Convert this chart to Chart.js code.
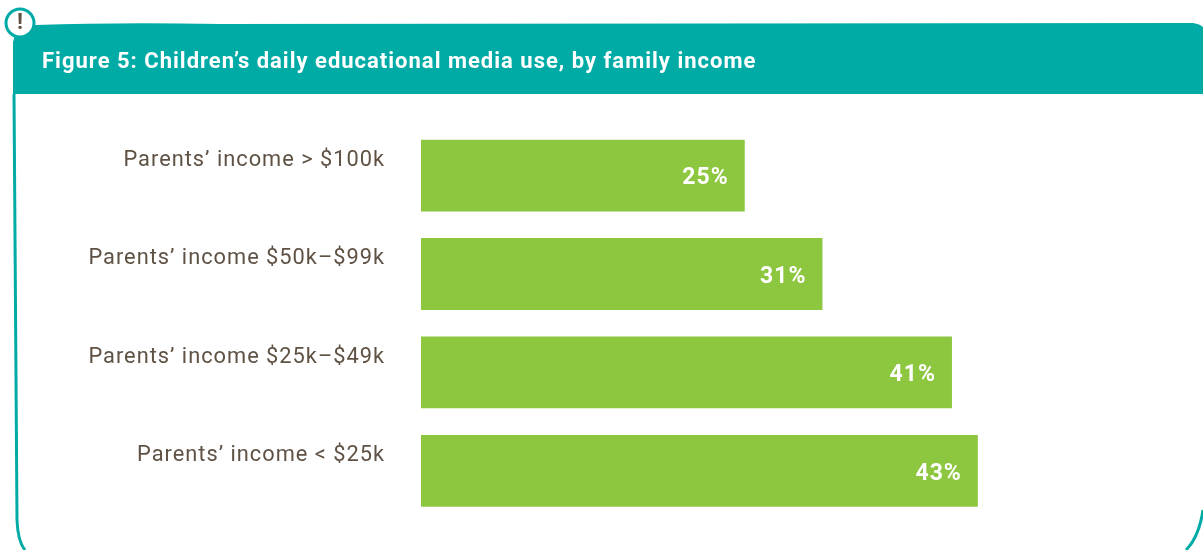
<!DOCTYPE html>
<html lang="en">
<head>
    <meta charset="UTF-8">
    <title>Figure 5</title>
    <script src="https://cdn.jsdelivr.net/npm/chart.js"></script>
    <style>
        body { margin: 0; padding: 0; background: #fff; }
        canvas { display: block; }
    </style>
</head>
<body>
    <canvas id="barChart" width="1203" height="550"></canvas>
    <script>
        const titleText = 'Figure 5: Children’s daily educational media use, by family income';
        const categories = [
            'Parents’ income > $100k',
            'Parents’ income $50k–$99k',
            'Parents’ income $25k–$49k',
            'Parents’ income < $25k'
        ];
        const shares = [25, 31, 41, 43];

        const teal = '#00aba6';
        const green = '#8dc63f';
        const brown = '#5f5245';
        const fontName = 'Roboto, sans-serif';

        // Header band, hand-drawn frame and the "!" badge behind the chart
        const framePlugin = {
            id: 'frame',
            beforeDraw(chart) {
                const ctx = chart.ctx;
                ctx.save();
                ctx.fillStyle = teal;
                ctx.beginPath();
                ctx.moveTo(13, 94);
                ctx.lineTo(13, 42);
                ctx.quadraticCurveTo(16, 27, 36, 25);
                ctx.quadraticCurveTo(120, 22, 220, 24);
                ctx.lineTo(1193, 23);
                ctx.quadraticCurveTo(1200, 24, 1203, 27);
                ctx.lineTo(1203, 94);
                ctx.closePath();
                ctx.fill();

                ctx.strokeStyle = teal;
                ctx.lineWidth = 3;
                ctx.beginPath();
                ctx.moveTo(14, 94);
                ctx.bezierCurveTo(15, 250, 15, 400, 17, 520);
                ctx.quadraticCurveTo(18, 542, 25, 550);
                ctx.stroke();
                ctx.beginPath();
                ctx.moveTo(1203, 510);
                ctx.quadraticCurveTo(1199, 537, 1186, 550);
                ctx.stroke();

                ctx.fillStyle = '#fff';
                ctx.beginPath();
                ctx.arc(20, 23, 14, 0, Math.PI * 2);
                ctx.fill();
                ctx.stroke();
                ctx.fillStyle = brown;
                ctx.font = 'bold 22px ' + fontName;
                ctx.textAlign = 'center';
                ctx.textBaseline = 'middle';
                ctx.fillText('!', 20, 23);
                ctx.restore();
                // DIN-like spacing for every text drawn after this point
                ctx.letterSpacing = '1px';
            }
        };

        // Percent labels inside the bar ends
        const valueLabels = {
            id: 'valueLabels',
            afterDatasetsDraw(chart) {
                const ctx = chart.ctx;
                ctx.save();
                ctx.fillStyle = '#fff';
                ctx.font = 'bold 23px ' + fontName;
                ctx.textAlign = 'right';
                ctx.textBaseline = 'middle';
                chart.getDatasetMeta(0).data.forEach((bar, i) => {
                    ctx.fillText(shares[i] + '%', bar.x - 16, bar.y + 3);
                });
                ctx.restore();
            }
        };

        new Chart(document.getElementById('barChart').getContext('2d'), {
            type: 'bar',
            data: {
                labels: categories,
                datasets: [{
                    data: shares,
                    backgroundColor: green,
                    categoryPercentage: 1,
                    barPercentage: 0.73
                }]
            },
            options: {
                indexAxis: 'y',
                responsive: false,
                animation: false,
                layout: { padding: { left: 42, right: 5, top: 0, bottom: 30 } },
                scales: {
                    x: { display: false, min: 0, max: 60 },
                    y: {
                        // tick padding would otherwise also eat into the plot height
                        afterFit(scale) {
                            scale.width = 379;
                            scale.paddingTop = 0;
                            scale.paddingBottom = 0;
                        },
                        grid: { display: false },
                        border: { display: false },
                        ticks: {
                            color: brown,
                            font: { family: fontName, size: 21.8 },
                            padding: 28,
                            labelOffset: -15
                        }
                    }
                },
                plugins: {
                    legend: { display: false },
                    tooltip: { enabled: false },
                    title: {
                        display: true,
                        text: titleText,
                        align: 'start',
                        color: '#fff',
                        font: { family: fontName, size: 22, weight: 'bold' },
                        padding: { top: 49, bottom: 51 }
                    }
                }
            },
            plugins: [framePlugin, valueLabels]
        });
    </script>
</body>
</html>
